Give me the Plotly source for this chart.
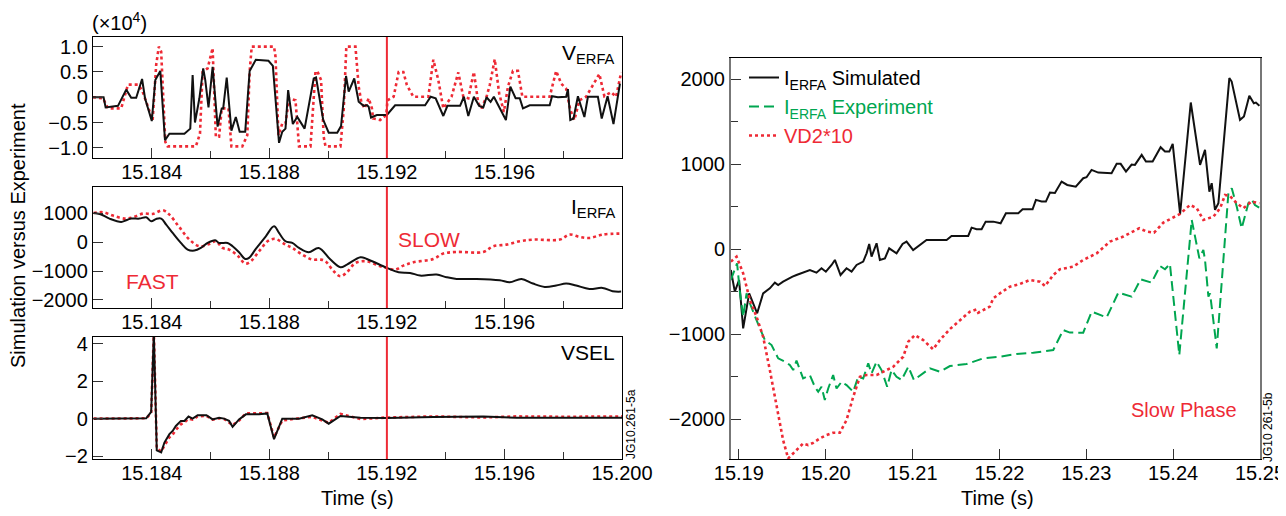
import plotly.graph_objects as go

# ---------------- DATA ----------------
# Panel a1: V_ERFA (x1e4)
t_v_sim = [15.18200, 15.18236, 15.18243, 15.18285, 15.18313, 15.18330, 15.18347, 15.18367, 15.18377, 15.18400,
           15.18412, 15.18429, 15.18445, 15.18460, 15.18511, 15.18531, 15.18539, 15.18547, 15.18562, 15.18575,
           15.18582, 15.18593, 15.18607, 15.18624, 15.18638, 15.18643, 15.18655, 15.18671, 15.18686, 15.18699,
           15.18718, 15.18733, 15.18754, 15.18797, 15.18812, 15.18833, 15.18844, 15.18855, 15.18864, 15.18880,
           15.18895, 15.18920, 15.18951, 15.18959, 15.18983, 15.19002, 15.19031, 15.19044, 15.19061, 15.19070,
           15.19089, 15.19104, 15.19121, 15.19132, 15.19138, 15.19146, 15.19166, 15.19200, 15.19228, 15.19330,
           15.19349, 15.19366, 15.19392, 15.19406, 15.19449, 15.19462, 15.19477, 15.19496, 15.19514, 15.19528,
           15.19539, 15.19553, 15.19564, 15.19584, 15.19605, 15.19620, 15.19638, 15.19652, 15.19663, 15.19686,
           15.19754, 15.19762, 15.19782, 15.19810, 15.19816, 15.19824, 15.19835, 15.19850, 15.19872, 15.19884,
           15.19918, 15.19931, 15.19951, 15.19971, 15.19993]
v_v_sim = [0.00, 0.00, -0.20, -0.17, 0.15, -0.01, -0.01, 0.36, -0.02, -0.47,
           0.34, 0.52, -0.85, -0.72, -0.72, -0.62, 0.44, -0.50, -0.02, 0.57,
           0.34, -0.20, 0.60, -0.58, -0.22, -0.22, 0.39, -0.66, -0.39, -0.68,
           -0.68, 0.52, 0.74, 0.72, 0.62, -0.90, -0.68, -0.62, 0.14, -0.53,
           -0.39, -0.62, 0.37, 0.39, -0.44, -0.70, -0.70, -0.57, 0.42, 0.11,
           0.37, -0.09, -0.17, -0.155, -0.19, -0.40, -0.35, -0.35, -0.16, -0.16,
           0.01, -0.02, -0.37, -0.17, -0.17, 0.01, -0.37, 0.01, -0.17, -0.20,
           0.00, -0.09, 0.01, -0.22, -0.45, 0.21, -0.02, -0.02, -0.22, -0.16,
           -0.16, 0.02, 0.00, 0.01, 0.16, -0.45, -0.42, 0.02, -0.39, 0.01,
           0.01, -0.42, 0.02, -0.53, 0.27]

t_v_exp = [15.18200, 15.18234, 15.18251, 15.18296, 15.18319, 15.18353, 15.18367, 15.18386, 15.18403, 15.18415,
           15.18424, 15.18432, 15.18446, 15.18454, 15.18550, 15.18564, 15.18573, 15.18590, 15.18607, 15.18618,
           15.18629, 15.18638, 15.18661, 15.18671, 15.18708, 15.18725, 15.18733, 15.18740, 15.18816, 15.18821,
           15.18831, 15.18844, 15.18855, 15.18867, 15.18889, 15.18901, 15.18940, 15.18957, 15.18963, 15.18976,
           15.18985, 15.18991, 15.19042, 15.19053, 15.19062, 15.19093, 15.19104, 15.19113, 15.19124, 15.19138,
           15.19149, 15.19153, 15.19177, 15.19198, 15.19202, 15.19223, 15.19240, 15.19256, 15.19268, 15.19290,
           15.19341, 15.19358, 15.19375, 15.19392, 15.19420, 15.19443, 15.19460, 15.19477, 15.19496, 15.19511,
           15.19522, 15.19539, 15.19550, 15.19567, 15.19582, 15.19598, 15.19612, 15.19629, 15.19646, 15.19661,
           15.19754, 15.19776, 15.19793, 15.19810, 15.19824, 15.19838, 15.19855, 15.19878, 15.19901, 15.19923,
           15.19940, 15.19963, 15.19980, 15.19997]
v_v_exp = [0.00, -0.02, -0.22, -0.22, 0.25, 0.25, 0.14, -0.19, -0.45, 0.64,
           1.00, 0.90, -0.88, -0.97, -0.97, -0.72, 0.50, 0.57, 0.97, -0.78,
           -0.78, -0.22, -0.22, -0.97, -0.97, -0.75, 0.50, 1.00, 1.00, 0.80,
           -0.75, -0.52, -0.52, -0.02, -0.06, -0.97, -0.97, 0.50, 0.52, 0.34,
           -0.78, -0.97, -0.97, -0.25, 1.00, 1.00, 0.21, -0.09, -0.22, -0.02,
           -0.22, -0.42, -0.45, -0.35, -0.06, 0.01, 0.50, 0.50, 0.24, 0.01,
           0.01, 0.74, 0.34, -0.22, 0.01, 0.49, 0.01, -0.02, 0.50, -0.12,
           -0.22, 0.01, 0.24, 0.75, 0.08, -0.29, 0.21, 0.52, 0.52, 0.01,
           0.01, 0.52, 0.27, 0.17, -0.25, -0.45, -0.06, 0.01, 0.24, 0.46,
           0.02, 0.10, 0.01, 0.49]

# Panel a2: I_ERFA
t_i_sim = [15.18202, 15.18223, 15.18256, 15.18296, 15.18313, 15.18330, 15.18358, 15.18381, 15.18398, 15.18415,
           15.18432, 15.18449, 15.18471, 15.18499, 15.18522, 15.18545, 15.18567, 15.18590, 15.18616, 15.18629,
           15.18658, 15.18675, 15.18697, 15.18718, 15.18731, 15.18754, 15.18788, 15.18816, 15.18833, 15.18855,
           15.18878, 15.18901, 15.18934, 15.18968, 15.19008, 15.19042, 15.19064, 15.19110, 15.19132, 15.19200,
           15.19240, 15.19279, 15.19313, 15.19369, 15.19403, 15.19437, 15.19505, 15.19584, 15.19618, 15.19658,
           15.19697, 15.19737, 15.19776, 15.19810, 15.19844, 15.19889, 15.19934, 15.19968, 15.19997]
v_i_sim = [1012, 977, 816, 700, 758, 816, 816, 862, 723, 804,
           816, 608, 319, -27, -258, -292, -200, -27, 65, -27,
           -27, -142, -350, -581, -546, -235, 204, 550, 319, 31,
           -27, -200, -350, -200, -604, -869, -777, -523, -581, -892,
           -1042, -1065, -1158, -1123, -1215, -1273, -1273, -1319, -1388, -1273,
           -1434, -1550, -1504, -1434, -1504, -1619, -1585, -1700, -1712]

t_i_exp = [15.18202, 15.18234, 15.18268, 15.18307, 15.18336, 15.18370, 15.18403, 15.18437, 15.18460, 15.18494,
           15.18528, 15.18562, 15.18596, 15.18618, 15.18641, 15.18663, 15.18692, 15.18718, 15.18737, 15.18765,
           15.18797, 15.18821, 15.18855, 15.18878, 15.18912, 15.18946, 15.18974, 15.18991, 15.19019, 15.19042,
           15.19064, 15.19093, 15.19132, 15.19177, 15.19200, 15.19228, 15.19256, 15.19290, 15.19358, 15.19392,
           15.19437, 15.19528, 15.19562, 15.19607, 15.19652, 15.19697, 15.19788, 15.19822, 15.19856, 15.19890,
           15.19934, 15.19991]
v_i_exp = [1012, 1035, 919, 816, 862, 989, 977, 1104, 954, 515,
           89, -142, -61, 31, -200, -258, -465, -742, -662, -315,
           54, 112, -85, -200, -431, -604, -604, -662, -1008, -1181,
           -1042, -719, -662, -835, -892, -950, -812, -696, -581, -396,
           -339, -339, -142, -85, 31, 89, 89, 262, 181, 146,
           262, 296]

# Panel a3: VSEL
t_vsel = [15.18202, 15.18381, 15.18398, 15.18407, 15.18417, 15.18432, 15.18443, 15.18460, 15.18471, 15.18482,
          15.18499, 15.18511, 15.18525, 15.18539, 15.18556, 15.18586, 15.18607, 15.18629, 15.18646, 15.18663,
          15.18675, 15.18697, 15.18720, 15.18765, 15.18793, 15.18816, 15.18844, 15.18901, 15.18946, 15.18980,
          15.19002, 15.19042, 15.19110, 15.19200, 15.19358, 15.19528, 15.19641, 15.19810, 15.20000]
v_vsel_sim = [0.00, 0.02, 0.36, 4.60, -1.70, -1.81, -1.28, -0.83, -0.66, -0.39,
              -0.12, -0.12, 0.11, 0.00, 0.18, 0.18, -0.04, 0.05, 0.00, -0.12,
              -0.44, -0.04, 0.23, 0.23, 0.28, -1.10, 0.00, 0.00, 0.18, -0.04,
              -0.27, 0.14, 0.05, 0.04, 0.09, 0.11, 0.05, 0.06, 0.05]
v_vsel_exp = [0.00, 0.02, 0.30, 4.60, -1.60, -1.75, -1.45, -1.00, -0.85, -0.60,
              -0.30, -0.20, 0.00, -0.05, 0.12, 0.15, -0.05, 0.02, -0.02, -0.20,
              -0.35, -0.10, 0.28, 0.28, 0.30, -1.00, -0.10, 0.02, 0.10, -0.10,
              -0.22, 0.25, -0.02, 0.06, 0.12, 0.06, 0.12, 0.10, 0.12]

SPLIT_T = 15.192

# Panel b: slow phase
t_b_sim = [15.18908, 15.18954, 15.19003, 15.19050, 15.19119, 15.19165, 15.19211, 15.19280, 15.19357, 15.19415,
           15.19453, 15.19510, 15.19579, 15.19618, 15.19664, 15.19740, 15.19818, 15.19894, 15.19952, 15.20002,
           15.20068, 15.20106, 15.20171, 15.20240, 15.20298, 15.20356, 15.20432, 15.20471, 15.20501, 15.20528,
           15.20586, 15.20624, 15.20682, 15.20731, 15.20816, 15.20885, 15.20931, 15.21007, 15.21161, 15.21392,
           15.21449, 15.21641, 15.21680, 15.21737, 15.21795, 15.21842, 15.21929, 15.22014, 15.22075, 15.22217,
           15.22267, 15.22382, 15.22420, 15.22486, 15.22535, 15.22582, 15.22639, 15.22716, 15.22781, 15.22879,
           15.22965, 15.23003, 15.23061, 15.23138, 15.23291, 15.23350, 15.23396, 15.23457, 15.23522, 15.23560,
           15.23638, 15.23687, 15.23764, 15.23856, 15.23906, 15.23956, 15.23995, 15.24080, 15.24203, 15.24310,
           15.24367, 15.24417, 15.24444, 15.24482, 15.24521, 15.24647, 15.24674, 15.24770, 15.24815, 15.24877,
           15.24929, 15.24953, 15.24993]
v_b_sim = [-245, -500, -363, -932, -520, -637, -755, -520, -461, -394,
           -422, -383, -343, -324, -304, -277, -245, -277, -225, -265,
           -186, -127, -304, -225, -265, -186, -147, -49, 61, -88,
           69, -127, -108, 10, -49, 61, 89, -10, 108, 108,
           155, 155, 253, 234, 234, 324, 324, 305, 423, 423,
           470, 470, 580, 561, 560, 666, 662, 795, 756, 736,
           835, 847, 933, 901, 894, 1004, 1004, 913, 996, 992,
           1110, 1031, 1031, 1200, 1149, 1149, 1239, 415, 1726, 992,
           1169, 677, 776, 462, 540, 2013, 1973, 1522, 1561, 1805,
           1718, 1726, 1687]

t_b_exp = [15.18908, 15.18980, 15.19012, 15.19050, 15.19089, 15.19127, 15.19211, 15.19300, 15.19377, 15.19453,
           15.19530, 15.19587, 15.19626, 15.19664, 15.19740, 15.19818, 15.19875, 15.19914, 15.19952, 15.19990,
           15.20029, 15.20086, 15.20125, 15.20183, 15.20240, 15.20317, 15.20375, 15.20432, 15.20490, 15.20528,
           15.20586, 15.20643, 15.20708, 15.20758, 15.20816, 15.20874, 15.20951, 15.21016, 15.21200, 15.21315,
           15.21430, 15.21622, 15.21814, 15.22006, 15.22198, 15.22390, 15.22620, 15.22735, 15.22812, 15.22965,
           15.23062, 15.23158, 15.23235, 15.23369, 15.23522, 15.23626, 15.23752, 15.23848, 15.23906, 15.23963,
           15.24071, 15.24214, 15.24302, 15.24348, 15.24367, 15.24406, 15.24425, 15.24502, 15.24636, 15.24675,
           15.24732, 15.24789, 15.24866, 15.24904, 15.24942, 15.25000]
v_b_exp = [-363, -166, -500, -795, -520, -637, -854, -1070, -1129, -1285,
           -1325, -1364, -1423, -1313, -1521, -1482, -1620, -1679, -1620, -1776,
           -1640, -1482, -1640, -1561, -1600, -1679, -1502, -1521, -1344, -1462,
           -1325, -1423, -1620, -1423, -1502, -1540, -1384, -1540, -1403, -1443,
           -1376, -1352, -1285, -1266, -1234, -1219, -1187, -952, -982, -983,
           -736, -775, -803, -512, -559, -355, -394, -198, -237, -174,
           -1246, 344, -108, -10, -127, -559, -520, -1168, 658, 717,
           501, 246, 540, 587, 520, 482]

t_b_vd2 = [15.18908, 15.18974, 15.19050, 15.19127, 15.19204, 15.19280, 15.19357, 15.19434, 15.19510, 15.19568,
           15.19626, 15.19683, 15.19740, 15.19798, 15.19856, 15.19932, 15.20010, 15.20086, 15.20163, 15.20240,
           15.20317, 15.20394, 15.20470, 15.20586, 15.20663, 15.20778, 15.20893, 15.20951, 15.21027, 15.21123,
           15.21237, 15.21315, 15.21430, 15.21545, 15.21660, 15.21737, 15.21756, 15.21889, 15.21929, 15.22006,
           15.22121, 15.22236, 15.22352, 15.22467, 15.22525, 15.22620, 15.22697, 15.22850, 15.22965, 15.23120,
           15.23273, 15.23426, 15.23610, 15.23695, 15.23780, 15.23887, 15.24080, 15.24195, 15.24272, 15.24348,
           15.24464, 15.24541, 15.24598, 15.24655, 15.24732, 15.24809, 15.24900, 15.24993]
v_b_vd2 = [-147, -88, -284, -598, -795, -1031, -1423, -1855, -2248, -2463,
           -2404, -2345, -2287, -2306, -2280, -2228, -2189, -2161, -2161, -2012,
           -1738, -1502, -1482, -1482, -1443, -1384, -1266, -1089, -1011, -1070,
           -1179, -1070, -940, -834, -736, -709, -748, -677, -579, -520,
           -441, -410, -363, -383, -434, -304, -237, -206, -127, -49,
           89, 148, 246, 207, 194, 312, 415, 521, 482, 344,
           383, 482, 638, 626, 540, 482, 560, 540]

# tick definitions
left_major = [15.184, 15.188, 15.192, 15.196]
left_major_bottom = [15.184, 15.188, 15.192, 15.196, 15.200]
left_minor = [15.186, 15.190, 15.194, 15.198]
right_major = [15.19, 15.20, 15.21, 15.22, 15.23, 15.24, 15.25]
v_ticks = [1.0, 0.5, 0, -0.5, -1.0]
v_ticktext = ["1.0", "0.5", "0", "\u22120.5", "\u22121.0"]
i_ticks = [1000, 0, -1000, -2000]
vsel_ticks = [4, 2, 0, -2]
b_ticks = [2000, 1000, 0, -1000, -2000]
b_minor = [1500, 500, -500, -1500]

# ---------------- STYLE ----------------
# the page body adds an 8px margin; the figure is sized so that it fills the 1286x516 window
OFF = 8
W, H = 1286 - OFF, 516 - OFF
BLACK = "#111111"
RED = "#ee2a35"
GREEN = "#00a650"
FONT = "Liberation Sans, Arial, Helvetica, sans-serif"
FS = 20


def px_x(p):
    return (p - OFF) / W


def px_y(p):
    return 1 - (p - OFF) / H


def axis(domain, **kw):
    d = dict(domain=domain, showline=True, linecolor="black", linewidth=1.3, mirror=True,
             ticks="inside", ticklen=10, tickwidth=1.3, tickcolor="#333333",
             showgrid=False, zeroline=False, automargin=False,
             tickfont=dict(family=FONT, size=FS, color="black"))
    d.update(kw)
    return d


fig = go.Figure()

LW = 2
# top panel
fig.add_trace(go.Scatter(x=t_v_exp, y=v_v_exp, mode="lines", line=dict(color=RED, width=2.6, dash="dot"),
                         xaxis="x", yaxis="y", showlegend=False))
fig.add_trace(go.Scatter(x=t_v_sim, y=v_v_sim, mode="lines", line=dict(color=BLACK, width=LW),
                         xaxis="x", yaxis="y", showlegend=False))
# middle
fig.add_trace(go.Scatter(x=t_i_exp, y=v_i_exp, mode="lines", line=dict(color=RED, width=2.6, dash="dot", shape="spline"),
                         xaxis="x2", yaxis="y2", showlegend=False))
fig.add_trace(go.Scatter(x=t_i_sim, y=v_i_sim, mode="lines", line=dict(color=BLACK, width=LW, shape="spline"),
                         xaxis="x2", yaxis="y2", showlegend=False))
# bottom
fig.add_trace(go.Scatter(x=t_vsel, y=v_vsel_exp, mode="lines", line=dict(color=RED, width=2.6, dash="dot"),
                         xaxis="x3", yaxis="y3", showlegend=False))
fig.add_trace(go.Scatter(x=t_vsel, y=v_vsel_sim, mode="lines", line=dict(color=BLACK, width=LW),
                         xaxis="x3", yaxis="y3", showlegend=False))
# right
fig.add_trace(go.Scatter(x=t_b_sim, y=v_b_sim, mode="lines", line=dict(color=BLACK, width=LW),
                         xaxis="x4", yaxis="y4",
                         name="I<sub>ERFA</sub> Simulated"))
fig.add_trace(go.Scatter(x=t_b_exp, y=v_b_exp, mode="lines", line=dict(color=GREEN, width=2, dash="10px,5px"),
                         xaxis="x4", yaxis="y4",
                         name='<span style="color:%s">I<sub>ERFA</sub> Experiment</span>' % GREEN))
fig.add_trace(go.Scatter(x=t_b_vd2, y=v_b_vd2, mode="lines", line=dict(color=RED, width=2.6, dash="dot"),
                         xaxis="x4", yaxis="y4",
                         name='<span style="color:%s">VD2*10</span>' % RED))

left_dom = [px_x(93), px_x(622)]
right_dom = [px_x(731), px_x(1260)]
top_dom = [px_y(158), px_y(37)]
mid_dom = [px_y(308), px_y(187)]
bot_dom = [px_y(459), px_y(337)]
r_dom = [px_y(459), px_y(58)]

minor_left = dict(tickvals=left_minor, ticks="inside", ticklen=7, tickwidth=1.3, tickcolor="#333333")
XSTAND = -4

fig.update_layout(
    width=W, height=H,
    margin=dict(l=0, r=0, t=0, b=0, autoexpand=False),
    paper_bgcolor="white", plot_bgcolor="white",
    font=dict(family=FONT, size=FS, color="black"),
    xaxis=axis(left_dom, anchor="y", range=[15.182, 15.200], tickvals=left_major, tickformat=".3f",
               minor=minor_left, ticklabelstandoff=XSTAND),
    xaxis2=axis(left_dom, anchor="y2", range=[15.182, 15.200], tickvals=left_major, tickformat=".3f",
                minor=minor_left, ticklabelstandoff=XSTAND),
    xaxis3=axis(left_dom, anchor="y3", range=[15.182, 15.200], tickvals=left_major_bottom, tickformat=".3f",
                minor=minor_left, ticklabelstandoff=XSTAND),
    xaxis4=axis(right_dom, anchor="y4", range=[15.1891, 15.25], tickvals=right_major, tickformat=".2f",
                ticklabelstandoff=XSTAND),
    yaxis=axis(top_dom, anchor="x", range=[-1.2, 1.19], tickvals=v_ticks, ticktext=v_ticktext),
    yaxis2=axis(mid_dom, anchor="x2", range=[-2280, 1910], tickvals=i_ticks),
    yaxis3=axis(bot_dom, anchor="x3", range=[-2.16, 4.37], tickvals=vsel_ticks),
    yaxis4=axis(r_dom, anchor="x4", range=[-2470, 2250], tickvals=b_ticks, linecolor="#777777", linewidth=2,
                minor=dict(tickvals=b_minor, ticks="inside", ticklen=7, tickwidth=1.3, tickcolor="#333333")),
    legend=dict(x=px_x(744), y=px_y(58), xanchor="left", yanchor="top", bgcolor="rgba(0,0,0,0)",
                font=dict(family=FONT, size=FS, color="black"), itemwidth=30, tracegroupgap=0),
    showlegend=True,
)

for xa, ya in (("x", "y"), ("x2", "y2"), ("x3", "y3")):
    fig.add_shape(type="line", xref=xa, yref=ya + " domain", x0=SPLIT_T, x1=SPLIT_T, y0=0, y1=1,
                  line=dict(color=RED, width=2))


def ann(x, y, text, color="black", size=FS, angle=0, xanchor="center", yanchor="middle"):
    fig.add_annotation(x=px_x(x), y=px_y(y), xref="paper", yref="paper", text=text, showarrow=False,
                       textangle=angle, xanchor=xanchor, yanchor=yanchor,
                       font=dict(family=FONT, size=size, color=color))


ann(90, 22, "(\u00d710<sup>4</sup>)", xanchor="left")
ann(617, 54, "V<sub>ERFA</sub>", xanchor="right", size=21)
ann(617, 208, "I<sub>ERFA</sub>", xanchor="right", size=21)
ann(617, 352, "VSEL", xanchor="right", size=21)
ann(152, 281, "FAST", color=RED, size=21)
ann(429, 239, "SLOW", color=RED, size=21)
ann(1184, 410, "Slow Phase", color=RED, size=20)
ann(18, 236, "Simulation versus Experiment", angle=-90, size=20)
ann(357, 498, "Time (s)")
ann(997, 498, "Time (s)")
ann(631, 424, "JG10.261-5a", angle=-90, size=12)
ann(1268, 427, "JG10 261-5b", angle=-90, size=12)

fig.write_html("out.html")
